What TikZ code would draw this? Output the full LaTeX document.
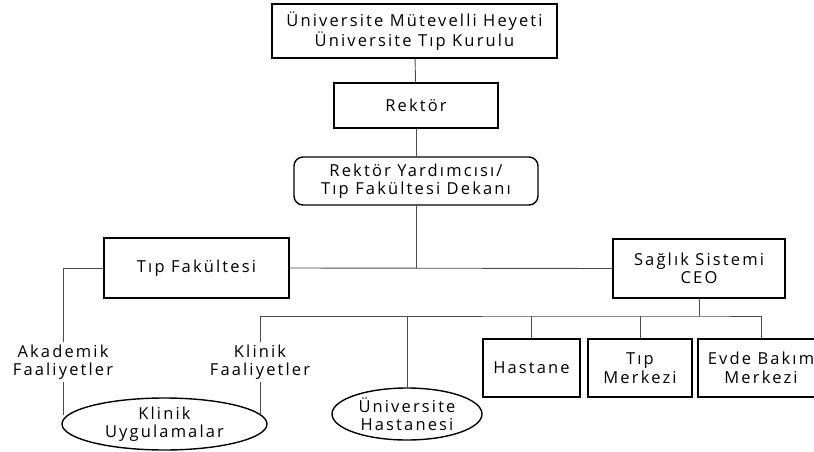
\documentclass[tikz,border=0pt]{standalone}
\usepackage{fontspec}
\setmainfont{Open Sans}[LetterSpace=13]
\usepackage{tikz}
\usetikzlibrary{shapes.geometric}

\begin{document}
\begin{tikzpicture}[x=1pt, y=-1pt]

\tikzstyle{every node} = [font=\fontsize{16.5}{18.5}\selectfont, align=center, inner sep=2pt]
\tikzstyle{unit} = [rectangle, draw, line width=2.4pt]
\tikzstyle{dean} = [rectangle, draw, line width=1.4pt, rounded corners=9pt]
\tikzstyle{oval} = [ellipse, draw, line width=1.4pt, inner sep=0pt]
\tikzstyle{conn} = [draw=black!70, line width=0.9pt]

\path[use as bounding box, clip] (0,0) rectangle (814,452);

\node[unit, minimum width=285, minimum height=54] (mtv) at (414.5,31) {Üniversite Mütevelli Heyeti\\Üniversite Tıp Kurulu};
\node[unit, minimum width=164, minimum height=45] (rek) at (416,105.5) {Rektör};
\node[dean, minimum width=244, minimum height=48] (dek) at (416,181) {Rektör Yardımcısı/\\Tıp Fakültesi Dekanı};

\node[unit, minimum width=185, minimum height=60] (tip) at (196.5,268) {Tıp Fakültesi};
\node[unit, minimum width=172, minimum height=59] (ceo) at (699,268.5) {Sağlık Sistemi\\CEO};

\node (aka) at (63,362) {Akademik\\Faaliyetler};
\node (kfa) at (260,362) {Klinik\\Faaliyetler};
\node[oval, minimum width=205, minimum height=52] (kuy) at (164.5,424) {Klinik\\Uygulamalar};
\node[oval, minimum width=150, minimum height=52] (uhs) at (407,414) {Üniversite\\Hastanesi};

\node[unit, minimum width=97, minimum height=58] (has) at (531.5,368) {Hastane};
\node[unit, minimum width=104, minimum height=58] (tmz) at (640,368) {Tıp\\Merkezi};
\node[unit, minimum width=126, minimum height=58] (ebm) at (761,368) {Evde Bakım\\Merkezi};

\coordinate (bus) at (699,316);

\draw[conn] (mtv) -- (rek);
\draw[conn] (rek) -- (dek);
\draw[conn] (dek.south) -- (dek.south |- tip.east);
\draw[conn] (tip.east) -- (ceo.west);
\draw[conn] (tip.west) -| (aka.north);
\draw[conn] (aka.south) -- (aka.south |- kuy.175);
\draw[conn] (kfa.south) -- (kfa.south |- kuy.5);
\draw[conn] (ceo.south) -- (bus);
\draw[conn] (kfa.north) |- (bus) -| (ebm.north);
\draw[conn] (uhs.north) -- (uhs.north |- bus);
\draw[conn] (has.north) -- (has.north |- bus);
\draw[conn] (tmz.north) -- (tmz.north |- bus);
\end{tikzpicture}
\end{document}
